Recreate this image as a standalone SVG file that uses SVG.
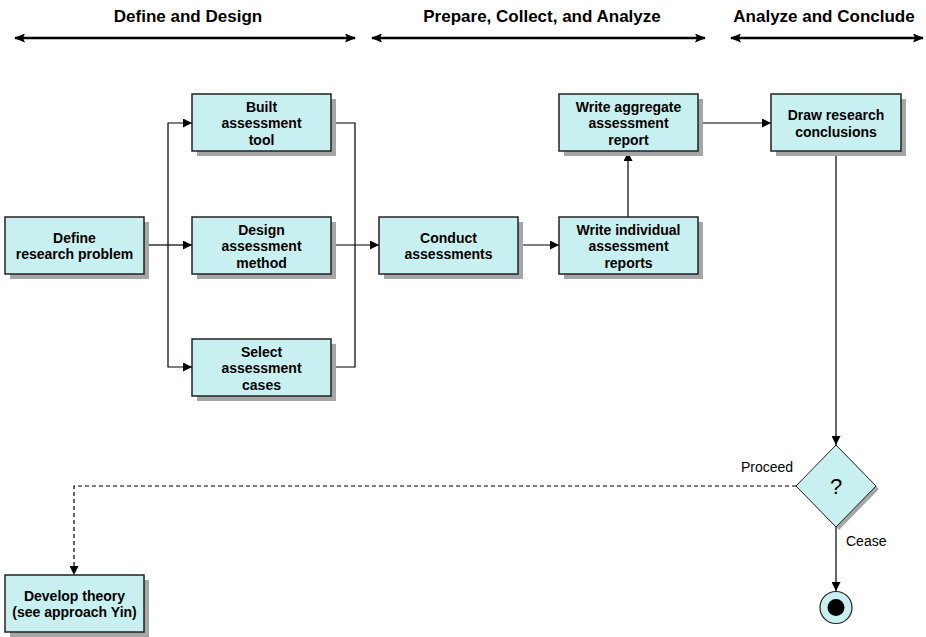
<svg xmlns="http://www.w3.org/2000/svg" width="926" height="637" viewBox="0 0 926 637">
<style>
  .box{fill:#c8f0f0;stroke:#222;stroke-width:1.5}
  .shadow{fill:#a6a6a6}
  .t{font-family:"Liberation Sans",Arial,sans-serif;font-size:14px;font-weight:bold;fill:#000;text-anchor:middle}
  .h{font-family:"Liberation Sans",Arial,sans-serif;font-size:17px;font-weight:bold;fill:#000;text-anchor:middle}
  .l{font-family:"Liberation Sans",Arial,sans-serif;font-size:14px;fill:#000}
  .c{fill:none;stroke:#000;stroke-width:1.2}
  .hd{fill:none;stroke:#000;stroke-width:2.5}
</style>
<defs>
  <marker id="arr" markerUnits="userSpaceOnUse" markerWidth="9" markerHeight="9" refX="9" refY="4.5" orient="auto">
    <path d="M0,0 L9,4.5 L0,9 z" fill="#000"/>
  </marker>
  <marker id="harr" markerUnits="userSpaceOnUse" markerWidth="11" markerHeight="9" refX="10" refY="4.5" orient="auto-start-reverse">
    <path d="M0,0 L11,4.5 L0,9 L2,4.5 z" fill="#000"/>
  </marker>
</defs>
<rect width="926" height="637" fill="#fff"/>

<g id="headers">
  <text class="h" x="188" y="22">Define and Design</text>
  <text class="h" x="542" y="22">Prepare, Collect, and Analyze</text>
  <text class="h" x="824" y="22">Analyze and Conclude</text>
  <line class="hd" x1="15" y1="38" x2="355" y2="38" marker-start="url(#harr)" marker-end="url(#harr)"/>
  <line class="hd" x1="372" y1="38" x2="705" y2="38" marker-start="url(#harr)" marker-end="url(#harr)"/>
  <line class="hd" x1="731" y1="38" x2="923" y2="38" marker-start="url(#harr)" marker-end="url(#harr)"/>
</g>

<g id="connectors">
  <path class="c" d="M144,245 H168"/>
  <path class="c" d="M168,245 V123 H192" marker-end="url(#arr)"/>
  <path class="c" d="M168,245 H192" marker-end="url(#arr)"/>
  <path class="c" d="M168,245 V367 H192" marker-end="url(#arr)"/>
  <path class="c" d="M331,123 H355 V367 H331"/>
  <path class="c" d="M331,245 H379" marker-end="url(#arr)"/>
  <path class="c" d="M518,245 H559" marker-end="url(#arr)"/>
  <path class="c" d="M628,217 V152" marker-end="url(#arr)"/>
  <path class="c" d="M698,123 H771" marker-end="url(#arr)"/>
  <path class="c" d="M836,152 V445" marker-end="url(#arr)"/>
  <path class="c" d="M796,486 H74 V575" stroke-dasharray="4,3" marker-end="url(#arr)"/>
  <path class="c" d="M836,527 V591" marker-end="url(#arr)"/>
  <text class="l" x="741" y="472">Proceed</text>
  <text class="l" x="846" y="546">Cease</text>
</g>

<g id="define">
  <rect class="shadow" x="10" y="222" width="139" height="57"/>
  <rect class="box" x="5" y="217" width="139" height="57"/>
  <text class="t" x="74.5" y="242.5">Define</text>
  <text class="t" x="74.5" y="259">research problem</text>
</g>

<g id="built">
  <rect class="shadow" x="197" y="99" width="139" height="57"/>
  <rect class="box" x="192" y="94" width="139" height="57"/>
  <text class="t" x="261.5" y="111.5">Built</text>
  <text class="t" x="261.5" y="128">assessment</text>
  <text class="t" x="261.5" y="144.5">tool</text>
</g>

<g id="design">
  <rect class="shadow" x="197" y="222" width="139" height="57"/>
  <rect class="box" x="192" y="217" width="139" height="57"/>
  <text class="t" x="261.5" y="234.5">Design</text>
  <text class="t" x="261.5" y="251">assessment</text>
  <text class="t" x="261.5" y="267.5">method</text>
</g>

<g id="select">
  <rect class="shadow" x="197" y="344" width="139" height="57"/>
  <rect class="box" x="192" y="339" width="139" height="57"/>
  <text class="t" x="261.5" y="356.5">Select</text>
  <text class="t" x="261.5" y="373">assessment</text>
  <text class="t" x="261.5" y="389.5">cases</text>
</g>

<g id="conduct">
  <rect class="shadow" x="384" y="222" width="139" height="57"/>
  <rect class="box" x="379" y="217" width="139" height="57"/>
  <text class="t" x="448.5" y="242.5">Conduct</text>
  <text class="t" x="448.5" y="259">assessments</text>
</g>

<g id="individual">
  <rect class="shadow" x="564" y="222" width="139" height="57"/>
  <rect class="box" x="559" y="217" width="139" height="57"/>
  <text class="t" x="628.5" y="234.5">Write individual</text>
  <text class="t" x="628.5" y="251">assessment</text>
  <text class="t" x="628.5" y="267.5">reports</text>
</g>

<g id="aggregate">
  <rect class="shadow" x="564" y="99" width="139" height="57"/>
  <rect class="box" x="559" y="94" width="139" height="57"/>
  <text class="t" x="628.5" y="111.5">Write aggregate</text>
  <text class="t" x="628.5" y="128">assessment</text>
  <text class="t" x="628.5" y="144.5">report</text>
</g>

<g id="conclusions">
  <rect class="shadow" x="776" y="99" width="130" height="57"/>
  <rect class="box" x="771" y="94" width="130" height="57"/>
  <text class="t" x="836" y="120">Draw research</text>
  <text class="t" x="836" y="136.5">conclusions</text>
</g>

<g id="decision">
  <path class="shadow" d="M839,448 L879,489 L839,530 L799,489 z"/>
  <path class="box" d="M836,445 L876,486 L836,527 L796,486 z" style="stroke-width:1"/>
  <text x="836" y="494" font-family="Liberation Sans, Arial, sans-serif" font-size="22" text-anchor="middle">?</text>
</g>

<g id="end">
  <circle cx="836" cy="607.5" r="16" fill="#c8f0f0" stroke="#222" stroke-width="1.2"/>
  <circle cx="836" cy="607.5" r="8.5" fill="#000"/>
</g>

<g id="theory">
  <rect class="shadow" x="10" y="580" width="139" height="57"/>
  <rect class="box" x="5" y="575" width="139" height="57"/>
  <text class="t" x="74.5" y="600.5">Develop theory</text>
  <text class="t" x="74.5" y="617">(see approach Yin)</text>
</g>
</svg>
